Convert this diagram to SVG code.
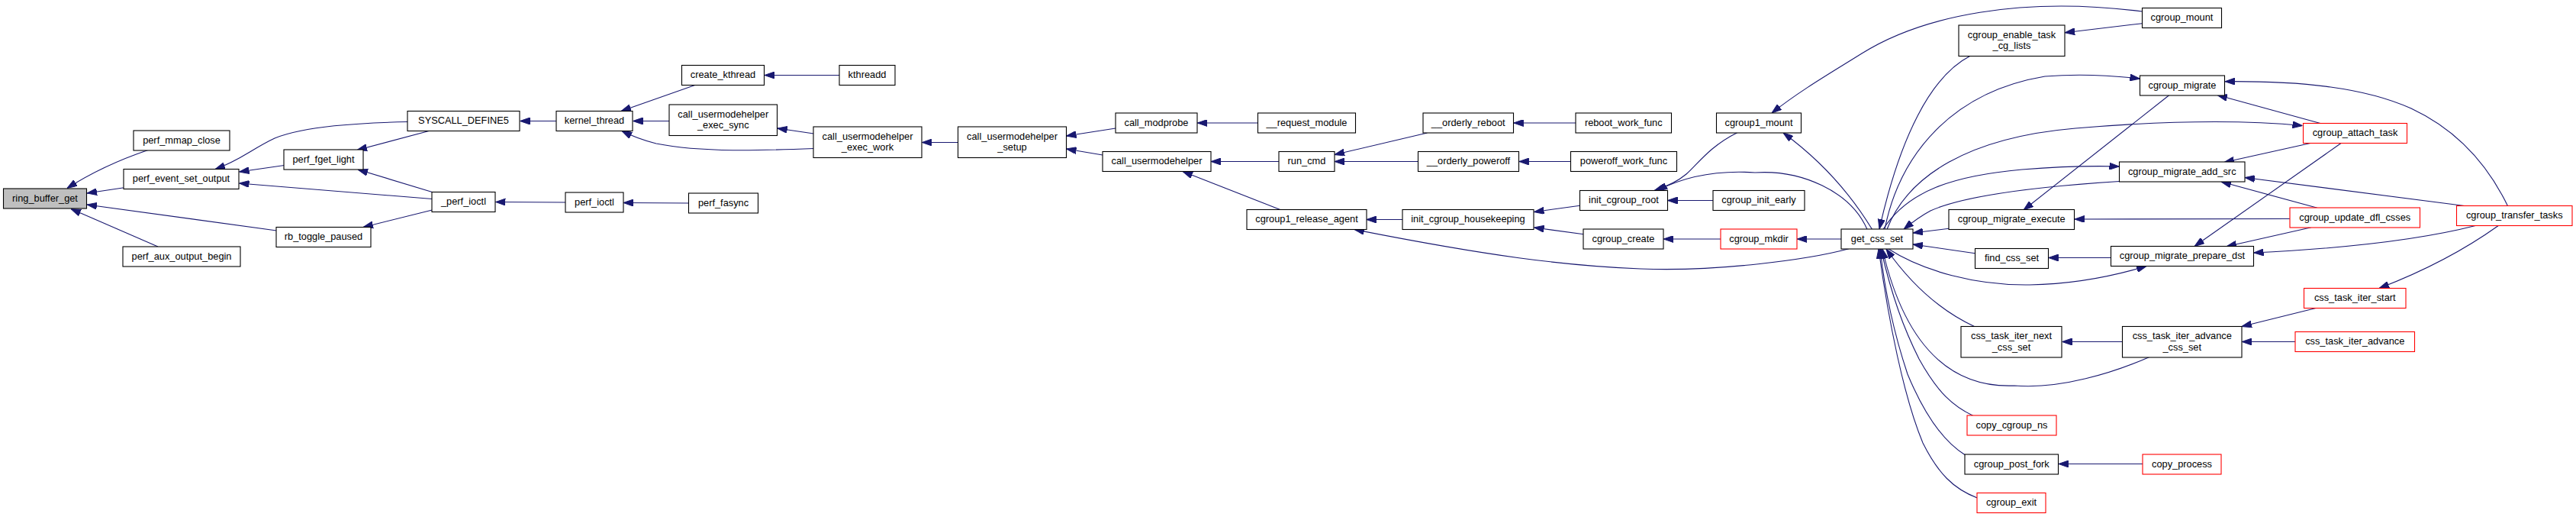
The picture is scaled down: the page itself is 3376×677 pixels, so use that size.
<svg xmlns="http://www.w3.org/2000/svg" width="3376" height="677" viewBox="0 0 3376 677">
<style>
.n rect{fill:#fff;stroke:#000;stroke-width:1.1}
.n.r rect{stroke:#ff0000}
.n.hl rect{fill:#bfbfbf}
.n text{font-family:"Liberation Sans",Arial,Helvetica,sans-serif;font-size:12.8px;text-anchor:middle;fill:#000}
#edges path{fill:none;stroke:#191970;stroke-width:1.1;marker-end:url(#ah)}
</style>
<defs>
<marker id="ah" viewBox="0 0 13 9" refX="13" refY="4.5" markerWidth="13" markerHeight="9" markerUnits="userSpaceOnUse" orient="auto">
<path d="M0,0 L13,4.5 L0,9 z" fill="#191970" stroke="#191970" stroke-width="1"/>
</marker>
</defs>
<rect width="3376" height="677" fill="#fff"/>
<g id="edges">
<path d="M194,196.5 C160,208 120,226 88,246.5"/>
<path d="M162.5,245.7 L114,253"/>
<path d="M362.5,302 L114,268"/>
<path d="M207,323 L93,273.5"/>
<path d="M534,159.5 C470,161 400,165 360,181 C330,195 315,210 282,221.5"/>
<path d="M372.5,216.5 L313.5,225"/>
<path d="M566.4,260.5 L313.5,240"/>
<path d="M563,171.3 L468,196.5"/>
<path d="M566.4,251.5 L469,222"/>
<path d="M566.4,275 L476,297.5"/>
<path d="M728.9,158.5 L681.5,158.5"/>
<path d="M741.4,265 L649.5,264.5"/>
<path d="M911.4,111.3 L814,145.5"/>
<path d="M877,158.5 L829.5,158.5"/>
<path d="M1066.4,194.5 C1000,197 920,200 860,188 C840,183 828,178 815,171.5"/>
<path d="M1066.4,175 L1018.8,168"/>
<path d="M902.5,266 L817,265.5"/>
<path d="M1100,98.5 L1002,98.5"/>
<path d="M1255.5,186.5 L1208.3,186.5"/>
<path d="M1462,168 L1397.5,178"/>
<path d="M1445,203 L1397.5,195"/>
<path d="M1648.5,161 L1569.3,161"/>
<path d="M1676,211.5 L1587,211.5"/>
<path d="M1677.7,274.5 L1550,224.5"/>
<path d="M1870.5,174 L1749,202.5"/>
<path d="M1858.5,211.5 L1749,211.5"/>
<path d="M2065,161 L1983.7,161"/>
<path d="M2058.5,211.5 L1990.8,211.5"/>
<path d="M1838.4,287.5 L1790.8,287.5"/>
<path d="M2423,325.8 C2370,340 2250,356 2150,352 C2050,348 1950,335 1775,300.5"/>
<path d="M2070.5,269.3 L2010.5,277.5"/>
<path d="M2075.4,306.7 L2010.5,298"/>
<path d="M2245,262.5 L2185.5,262.5"/>
<path d="M2276.7,173.7 C2240,192 2225,215 2210,228 C2198,238 2185,244 2168,249.5"/>
<path d="M2447,300.3 C2425,250 2360,222 2300,226 C2240,222 2200,235 2172,249.5"/>
<path d="M2255,313 L2180.2,313"/>
<path d="M2413,313 L2355.3,313"/>
<path d="M2453.5,300.3 C2435,270 2400,220 2337,174"/>
<path d="M2807.5,15 C2650,-5 2520,20 2440,70 C2400,95 2360,118 2322,148"/>
<path d="M2807.5,30.7 L2706.2,42.7"/>
<path d="M2582,73.3 C2530,100 2490,180 2463,300"/>
<path d="M2470,300.3 C2490,200 2560,120 2680,100 C2730,96 2770,99 2804.4,103"/>
<path d="M2473,300.3 C2500,230 2580,180 2720,168 C2850,157 2950,158 3017.5,164.5"/>
<path d="M2468,300.3 C2500,250 2560,230 2650,222 C2700,218 2740,217 2777.5,218"/>
<path d="M2777.7,237.5 C2660,245 2570,258 2530,276 C2515,284 2505,292 2495,300.3"/>
<path d="M2554.3,299.3 L2507,305"/>
<path d="M2588.3,331.7 L2507,320"/>
<path d="M2843.3,124.3 L2652,275"/>
<path d="M3000.8,286.5 L2718.8,287"/>
<path d="M2766.7,337.5 L2684.7,337.5"/>
<path d="M2474.6,325.8 C2520,355 2590,374 2660,373 C2720,372 2775,360 2813,348.5"/>
<path d="M2587.5,427.5 C2550,410 2510,380 2472,326"/>
<path d="M2817,467.5 C2770,488 2700,510 2640,505 C2570,508 2500,470 2467,326"/>
<path d="M2585.6,544.3 C2560,532 2540,515 2515,470 C2495,430 2480,390 2465,326"/>
<path d="M2575,595.5 C2550,580 2525,550 2500,490 C2480,430 2470,380 2464,326"/>
<path d="M2591.3,652 C2560,640 2540,620 2520,580 C2495,520 2475,420 2462,326"/>
<path d="M2781.6,447.5 L2702.5,447.5"/>
<path d="M2808.3,607.5 L2697.9,607.5"/>
<path d="M3040.9,161.5 L2906,124.5"/>
<path d="M3286.4,269.5 C3260,215 3220,170 3160,142 C3100,115 3020,106 2916,106.7"/>
<path d="M3029,187.3 L2915,212.5"/>
<path d="M3037,272.3 L2911,238"/>
<path d="M3229.5,269.5 L2942,232.5"/>
<path d="M3068.4,187.3 L2876,322.5"/>
<path d="M3029,297.7 L2918,322.7"/>
<path d="M3245.2,295.3 C3180,312 3080,325 2953.5,331"/>
<path d="M3274.6,295.3 C3240,320 3190,350 3118,377.5"/>
<path d="M3037,403 L2938,427.5"/>
<path d="M3008.3,447.5 L2938.2,447.5"/>
</g>
<g id="n1" class="n hl"><rect x="4.5" y="247" width="109" height="26"/><text x="59" y="263.5">ring_buffer_get</text></g>
<g id="n2" class="n"><rect x="175" y="171" width="126" height="26"/><text x="238" y="187.5">perf_mmap_close</text></g>
<g id="n3" class="n"><rect x="162" y="221.5" width="151" height="26"/><text x="237.5" y="238">perf_event_set_output</text></g>
<g id="n4" class="n"><rect x="161" y="323" width="154" height="26"/><text x="238" y="339.5">perf_aux_output_begin</text></g>
<g id="n5" class="n"><rect x="372" y="196" width="104" height="26"/><text x="424" y="212.5">perf_fget_light</text></g>
<g id="n6" class="n"><rect x="362" y="297.5" width="124" height="26"/><text x="424" y="314">rb_toggle_paused</text></g>
<g id="n7" class="n"><rect x="534" y="145.5" width="147" height="26"/><text x="607.5" y="162">SYSCALL_DEFINE5</text></g>
<g id="n8" class="n"><rect x="566" y="251.5" width="83" height="26"/><text x="607.5" y="268">_perf_ioctl</text></g>
<g id="n9" class="n"><rect x="729" y="145.5" width="100" height="26"/><text x="779" y="162">kernel_thread</text></g>
<g id="n10" class="n"><rect x="741" y="252" width="76" height="26"/><text x="779" y="268.5">perf_ioctl</text></g>
<g id="n11" class="n"><rect x="893.5" y="85.5" width="108" height="26"/><text x="947.5" y="102">create_kthread</text></g>
<g id="n12" class="n"><rect x="877" y="137" width="141.5" height="40.5"/><text x="947.75" y="153.5">call_usermodehelper</text><text x="947.75" y="168">_exec_sync</text></g>
<g id="n13" class="n"><rect x="902.5" y="253" width="91" height="26"/><text x="948" y="269.5">perf_fasync</text></g>
<g id="n14" class="n"><rect x="1100" y="85.5" width="73" height="26"/><text x="1136.5" y="102">kthreadd</text></g>
<g id="n15" class="n"><rect x="1066" y="166" width="142" height="40.5"/><text x="1137" y="182.5">call_usermodehelper</text><text x="1137" y="197">_exec_work</text></g>
<g id="n16" class="n"><rect x="1255.5" y="166" width="142" height="40.5"/><text x="1326.5" y="182.5">call_usermodehelper</text><text x="1326.5" y="197">_setup</text></g>
<g id="n17" class="n"><rect x="1462" y="148" width="107" height="26"/><text x="1515.5" y="164.5">call_modprobe</text></g>
<g id="n18" class="n"><rect x="1445" y="198.5" width="142" height="26"/><text x="1516" y="215">call_usermodehelper</text></g>
<g id="n19" class="n"><rect x="1648.5" y="148" width="128" height="26"/><text x="1712.5" y="164.5">__request_module</text></g>
<g id="n20" class="n"><rect x="1676" y="198.5" width="73" height="26"/><text x="1712.5" y="215">run_cmd</text></g>
<g id="n21" class="n"><rect x="1634" y="274.5" width="157" height="26"/><text x="1712.5" y="291">cgroup1_release_agent</text></g>
<g id="n22" class="n"><rect x="1865" y="148" width="118.5" height="26"/><text x="1924.25" y="164.5">__orderly_reboot</text></g>
<g id="n23" class="n"><rect x="1858.5" y="198.5" width="132" height="26"/><text x="1924.5" y="215">__orderly_poweroff</text></g>
<g id="n24" class="n"><rect x="1838" y="274.5" width="172" height="26"/><text x="1924" y="291">init_cgroup_housekeeping</text></g>
<g id="n25" class="n"><rect x="2065" y="148" width="125.5" height="26"/><text x="2127.75" y="164.5">reboot_work_func</text></g>
<g id="n26" class="n"><rect x="2058.5" y="198.5" width="139" height="26"/><text x="2128" y="215">poweroff_work_func</text></g>
<g id="n27" class="n"><rect x="2070.5" y="249.5" width="115" height="26"/><text x="2128" y="266">init_cgroup_root</text></g>
<g id="n28" class="n"><rect x="2075" y="300" width="105" height="26"/><text x="2127.5" y="316.5">cgroup_create</text></g>
<g id="n29" class="n"><rect x="2249.5" y="148" width="111" height="26"/><text x="2305" y="164.5">cgroup1_mount</text></g>
<g id="n30" class="n"><rect x="2245" y="249.5" width="120" height="26"/><text x="2305" y="266">cgroup_init_early</text></g>
<g id="n31" class="n r"><rect x="2255" y="300" width="100" height="26"/><text x="2305" y="316.5">cgroup_mkdir</text></g>
<g id="n32" class="n"><rect x="2413" y="300" width="94" height="26"/><text x="2460" y="316.5">get_css_set</text></g>
<g id="n33" class="n"><rect x="2567" y="33" width="139" height="40.5"/><text x="2636.5" y="49.5">cgroup_enable_task</text><text x="2636.5" y="64">_cg_lists</text></g>
<g id="n34" class="n"><rect x="2554" y="274.5" width="164.5" height="26"/><text x="2636.25" y="291">cgroup_migrate_execute</text></g>
<g id="n35" class="n"><rect x="2588.5" y="325.5" width="96" height="26"/><text x="2636.5" y="342">find_css_set</text></g>
<g id="n36" class="n"><rect x="2570" y="427.5" width="132" height="40.5"/><text x="2636" y="444">css_task_iter_next</text><text x="2636" y="458.5">_css_set</text></g>
<g id="n37" class="n r"><rect x="2578" y="544" width="117" height="26"/><text x="2636.5" y="560.5">copy_cgroup_ns</text></g>
<g id="n38" class="n"><rect x="2575" y="595" width="122.5" height="26"/><text x="2636.25" y="611.5">cgroup_post_fork</text></g>
<g id="n39" class="n r"><rect x="2591" y="645.5" width="90" height="26"/><text x="2636" y="662">cgroup_exit</text></g>
<g id="n40" class="n"><rect x="2807.5" y="10.5" width="104" height="26"/><text x="2859.5" y="27">cgroup_mount</text></g>
<g id="n41" class="n"><rect x="2804.5" y="99" width="111" height="26"/><text x="2860" y="115.5">cgroup_migrate</text></g>
<g id="n42" class="n"><rect x="2777.5" y="212" width="164.5" height="26"/><text x="2859.75" y="228.5">cgroup_migrate_add_src</text></g>
<g id="n43" class="n"><rect x="2766.5" y="322.5" width="187" height="26"/><text x="2860" y="339">cgroup_migrate_prepare_dst</text></g>
<g id="n44" class="n"><rect x="2781.5" y="427.5" width="156.5" height="40.5"/><text x="2859.75" y="444">css_task_iter_advance</text><text x="2859.75" y="458.5">_css_set</text></g>
<g id="n45" class="n r"><rect x="2808" y="595" width="103" height="26"/><text x="2859.5" y="611.5">copy_process</text></g>
<g id="n46" class="n r"><rect x="3018.5" y="161.5" width="136" height="26"/><text x="3086.5" y="178">cgroup_attach_task</text></g>
<g id="n47" class="n r"><rect x="3001" y="272" width="170.5" height="26"/><text x="3086.25" y="288.5">cgroup_update_dfl_csses</text></g>
<g id="n48" class="n r"><rect x="3019.5" y="377.5" width="133.5" height="26"/><text x="3086.25" y="394">css_task_iter_start</text></g>
<g id="n49" class="n r"><rect x="3008" y="434.5" width="156.5" height="26"/><text x="3086.25" y="451">css_task_iter_advance</text></g>
<g id="n50" class="n r"><rect x="3219.5" y="269.5" width="151.5" height="26"/><text x="3295.25" y="286">cgroup_transfer_tasks</text></g>
</svg>
